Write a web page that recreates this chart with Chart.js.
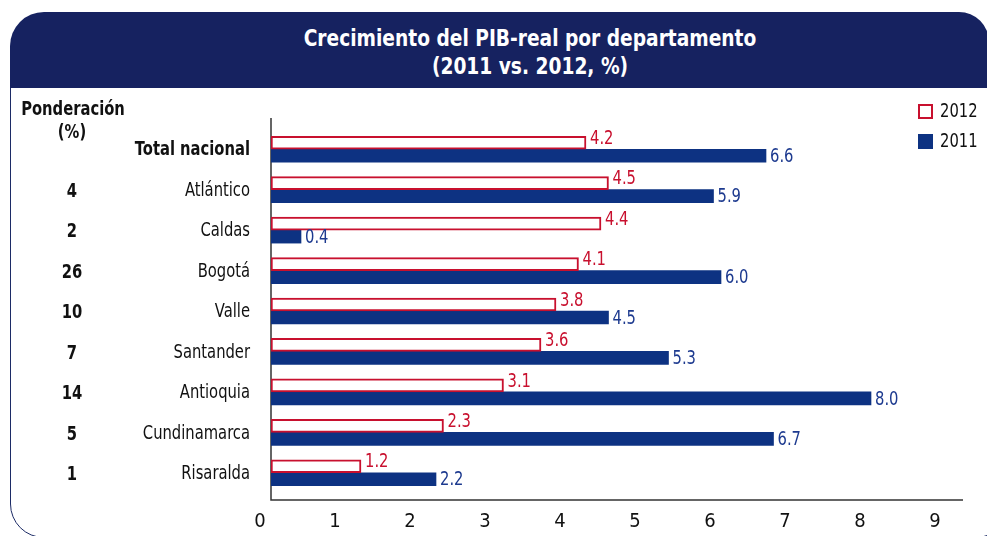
<!DOCTYPE html>
<html>
<head>
<meta charset="utf-8">
<script src="https://cdn.jsdelivr.net/npm/chart.js@4.4.1/dist/chart.umd.min.js"></script>
<style>
  html, body { margin: 0; padding: 0; background: #fff; }
  #wrap { position: relative; width: 987px; height: 536px; overflow: hidden; }
  #panel {
    position: absolute; left: 10px; top: 50px; width: 1000px; height: 488px;
    border: 1.5px solid #1c2b66; border-radius: 34px; box-sizing: border-box;
  }
  #header {
    position: absolute; left: 10px; top: 12px; width: 979px; height: 76px;
    background: #162260; border-radius: 34px 30px 0 0;
    color: #fff; font-family: "DejaVu Sans Condensed", sans-serif;
    font-weight: bold; font-size: 23px; text-align: center;
  }
  #header div { position: absolute; left: 0; width: 1040px; line-height: 26px; transform: scaleX(0.9); }
  #header .t1 { top: 13px; }
  #header .t2 { top: 41px; }
  canvas { position: absolute; left: 0; top: 0; }
</style>
</head>
<body>
<div id="wrap">
  <div id="panel"></div>
  <div id="header">
    <div class="t1">Crecimiento del PIB-real por departamento</div>
    <div class="t2">(2011 vs. 2012, %)</div>
  </div>
  <canvas id="chart" width="987" height="536"></canvas>
</div>
<script>
const categories = ['Total nacional', 'Atlántico', 'Caldas', 'Bogotá', 'Valle', 'Santander', 'Antioquia', 'Cundinamarca', 'Risaralda'];
const weights = ['', '4', '2', '26', '10', '7', '14', '5', '1'];
const values2012 = [4.2, 4.5, 4.4, 4.1, 3.8, 3.6, 3.1, 2.3, 1.2];
const values2011 = [6.6, 5.9, 0.4, 6.0, 4.5, 5.3, 8.0, 6.7, 2.2];
const xTicks = [0, 1, 2, 3, 4, 5, 6, 7, 8, 9];

const FONT = '"DejaVu Sans Condensed", sans-serif';
const RED = '#c8102e';
const NAVY = '#0d3282';
const LABEL_BLUE = '#1d3a8f';

// narrow text: the source uses a condensed face, so squeeze horizontally
function narrowText(ctx, text, x, y, align) {
  ctx.save();
  ctx.translate(x, y);
  ctx.scale(0.82, 1);
  ctx.textAlign = align;
  ctx.fillText(text, 0, 0);
  ctx.restore();
}

const overlay = {
  id: 'overlay',
  beforeDatasetsDraw(chart) {
    const { ctx, chartArea: a } = chart;
    ctx.save();
    ctx.strokeStyle = '#333';
    ctx.lineWidth = 1.5;
    ctx.beginPath();
    ctx.moveTo(a.left, a.top - 11);
    ctx.lineTo(a.left, a.bottom + 7);
    ctx.lineTo(a.right + 2, a.bottom + 7);
    ctx.stroke();
    ctx.restore();
  },
  afterDatasetsDraw(chart) {
    const { ctx } = chart;
    const y = chart.scales.y;
    ctx.save();
    ctx.textBaseline = 'middle';

    // value labels
    ctx.font = '20px ' + FONT;
    const sets = [[values2012, RED, -4], [values2011, LABEL_BLUE, 1]];
    sets.forEach(([vals, color, dy], d) => {
      ctx.fillStyle = color;
      chart.getDatasetMeta(d).data.forEach((bar, i) => {
        narrowText(ctx, vals[i].toFixed(1), bar.x + 4, bar.y + dy, 'left');
      });
    });

    // category labels
    ctx.fillStyle = '#111';
    categories.forEach((c, i) => {
      ctx.font = (i === 0 ? 'bold ' : '') + '20px ' + FONT;
      narrowText(ctx, c, 250, y.getPixelForTick(i) + 1, 'right');
    });

    // Ponderación column
    ctx.font = 'bold 20px ' + FONT;
    narrowText(ctx, 'Ponderación', 73, 110, 'center');
    narrowText(ctx, '(%)', 72, 133, 'center');
    weights.forEach((w, i) => {
      if (w) narrowText(ctx, w, 72, y.getPixelForTick(i) + 2, 'center');
    });

    // legend
    ctx.fillStyle = '#fff';
    ctx.fillRect(919, 105, 13, 13);
    ctx.strokeStyle = RED;
    ctx.lineWidth = 2;
    ctx.strokeRect(919, 105, 13, 13);
    ctx.fillStyle = NAVY;
    ctx.fillRect(918, 134, 15, 15);
    ctx.fillStyle = '#111';
    ctx.font = '20px ' + FONT;
    narrowText(ctx, '2012', 940, 112, 'left');
    narrowText(ctx, '2011', 940, 142, 'left');
    ctx.restore();
  }
};

new Chart(document.getElementById('chart'), {
  type: 'bar',
  data: {
    labels: categories,
    datasets: [{
      label: '2012',
      data: values2012,
      backgroundColor: '#fff',
      borderColor: RED,
      borderWidth: 2,
      borderSkipped: false,
      barThickness: 13
    }, {
      label: '2011',
      data: values2011,
      backgroundColor: NAVY,
      borderWidth: 0,
      barThickness: 13
    }]
  },
  options: {
    indexAxis: 'y',
    responsive: false,
    animation: false,
    layout: { padding: { left: 0, right: 26, top: 129, bottom: 0 } },
    plugins: {
      legend: { display: false },
      tooltip: { enabled: false },
      title: { display: false }
    },
    scales: {
      x: {
        min: 0,
        max: 9.2,
        grid: { display: false, drawTicks: false },
        border: { display: false },
        afterBuildTicks: s => { s.ticks = xTicks.map(v => ({ value: v })); },
        afterFit: s => { s.height = 43; },
        ticks: {
          padding: 17,
          labelOffset: -11,
          color: '#111',
          font: { family: FONT, size: 20 }
        }
      },
      y: {
        grid: { display: false, drawTicks: false },
        border: { display: false },
        afterFit: s => { s.width = 271; },
        ticks: { display: false }
      }
    }
  },
  plugins: [overlay]
});
</script>
</body>
</html>
